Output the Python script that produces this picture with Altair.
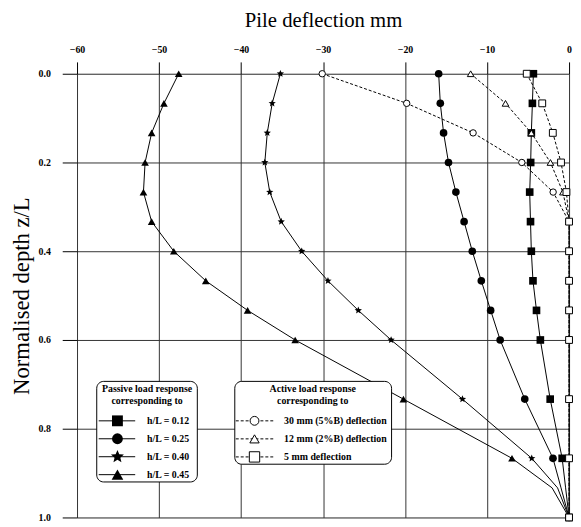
import altair as alt
import pandas as pd

# ---------------- data ----------------
Z_PASSIVE = [0.0, 0.0667, 0.1333, 0.2, 0.2667, 0.3333, 0.4, 0.4667, 0.5333, 0.6, 0.7333, 0.8667, 0.9333, 1.0]
MARKED_PASSIVE = [True, True, True, True, True, True, True, True, True, True, True, True, False, True]
P_H012 = [-4.35, -4.47, -4.6, -4.68, -4.8, -4.7, -4.6, -4.4, -3.97, -3.5, -2.3, -0.84, -0.42, 0.0]
P_H025 = [-15.9, -15.7, -15.3, -14.7, -13.8, -12.8, -11.8, -10.7, -9.56, -8.4, -5.4, -1.96, -0.98, 0.0]
P_H040 = [-35.2, -36.2, -36.8, -37.1, -36.5, -35.1, -32.6, -29.4, -25.7, -21.7, -13.0, -4.55, -1.4, 0.0]
P_H045 = [-47.6, -49.4, -50.9, -51.7, -51.9, -50.9, -48.2, -44.3, -39.2, -33.4, -20.2, -6.96, -2.07, 0.0]

Z_ACTIVE = [0.0, 0.0667, 0.1333, 0.2, 0.2667, 0.3333, 0.4, 0.4667, 0.5333, 0.6, 0.7333, 0.8667, 1.0]
A_30 = [-30.1, -19.8, -11.7, -5.76, -1.94, 0.0, 0.0, 0.0, 0.0, 0.0, 0.0, 0.0, 0.0]
A_12 = [-12.0, -7.75, -4.6, -2.27, -0.75, 0.0, 0.0, 0.0, 0.0, 0.0, 0.0, 0.0, 0.0]
A_5 = [-5.16, -3.27, -1.98, -0.98, -0.32, 0.0, 0.0, 0.0, 0.0, 0.0, 0.0, 0.0, 0.0]

PASSIVE_NAMES = ["h/L = 0.12", "h/L = 0.25", "h/L = 0.40", "h/L = 0.45"]
ACTIVE_NAMES = ["30 mm (5%B) deflection", "12 mm (2%B) deflection", "5 mm deflection"]
PASSIVE_TITLE = ["Passive load response", "corresponding to"]
ACTIVE_TITLE = ["Active load response", "corresponding to"]
X_TICKS = [-60, -50, -40, -30, -20, -10, 0]
Y_TICKS = [0.0, 0.2, 0.4, 0.6, 0.8, 1.0]
X_TITLE = "Pile deflection mm"
Y_TITLE = "Normalised depth z/L"

# ---------------- styling ----------------
FONT = "Liberation Serif"
STAR = ("M0,-1L0.265,-0.364L0.951,-0.309L0.428,0.139L0.588,0.809L0,0.45"
        "L-0.588,0.809L-0.428,0.139L-0.951,-0.309L-0.265,-0.364Z")
P_SHAPES = ["square", "circle", STAR, "triangle-up"]
P_SIZES = [60, 60, 140, 62]
A_SHAPES = ["circle", "triangle-up", "square"]
A_SIZES = [42, 48, 52]
LEG_P_SIZES = [121, 121, 190, 140]
LEG_A_SIZES = [80, 90, 110]

rows = []
for name, vals in zip(PASSIVE_NAMES, [P_H012, P_H025, P_H040, P_H045]):
    for i, (z, v, m) in enumerate(zip(Z_PASSIVE, vals, MARKED_PASSIVE)):
        rows.append(dict(series=name, kind="passive", z=z, defl=v, idx=i, marked=m))
for name, vals in zip(ACTIVE_NAMES, [A_30, A_12, A_5]):
    for i, (z, v) in enumerate(zip(Z_ACTIVE, vals)):
        rows.append(dict(series=name, kind="active", z=z, defl=v, idx=i, marked=True))
df = pd.DataFrame(rows)

x_enc = alt.X(
    "defl:Q",
    scale=alt.Scale(domain=[-60, 0], nice=False, zero=False),
    axis=alt.Axis(
        orient="top", values=X_TICKS, format="d", title=X_TITLE,
        tickSize=12, labelPadding=8, titlePadding=14, labelFlush=False, labelOverlap=False,
        labelFont=FONT, labelFontWeight="bold", labelFontSize=10, labelColor="black",
        titleFont=FONT, titleFontSize=21, titleFontWeight="normal", titleColor="black",
        tickColor="black", domain=False, grid=True, gridColor="#333", gridWidth=1, gridOpacity=1,
    ),
)
y_enc = alt.Y(
    "z:Q",
    scale=alt.Scale(domain=[0, 1], reverse=True, nice=False, zero=False),
    axis=alt.Axis(
        values=Y_TICKS, format=".1f", title=Y_TITLE,
        tickSize=15, labelPadding=12, titlePadding=5, labelFlush=False, labelOverlap=False,
        labelFont=FONT, labelFontWeight="bold", labelFontSize=10, labelColor="black",
        titleFont=FONT, titleFontSize=23, titleFontWeight="normal", titleColor="black",
        tickColor="black", domain=False, grid=True, gridColor="#333", gridWidth=1, gridOpacity=1,
    ),
)

passive_df = df[df.kind == "passive"]
active_df = df[df.kind == "active"]

p_lines = alt.Chart(passive_df).mark_line(
    color="black", strokeWidth=1, interpolate="linear"
).encode(x=x_enc, y=y_enc, detail="series:N", order="idx:Q")

a_lines = alt.Chart(active_df).mark_line(
    color="black", strokeWidth=1, strokeDash=[3, 2], interpolate="linear"
).encode(x=x_enc, y=y_enc, detail="series:N", order="idx:Q")

p_points = alt.Chart(passive_df[passive_df.marked]).mark_point(
    filled=True, color="black", opacity=1
).encode(
    x=x_enc, y=y_enc,
    shape=alt.Shape("series:N", scale=alt.Scale(domain=PASSIVE_NAMES, range=P_SHAPES), legend=None),
    size=alt.Size("series:N", scale=alt.Scale(domain=PASSIVE_NAMES, range=P_SIZES), legend=None),
)

a_points = alt.Chart(active_df).mark_point(
    filled=True, fill="white", stroke="black", strokeWidth=1, opacity=1
).encode(
    x=x_enc, y=y_enc,
    shape=alt.Shape("series:N", scale=alt.Scale(domain=ACTIVE_NAMES, range=A_SHAPES), legend=None),
    size=alt.Size("series:N", scale=alt.Scale(domain=ACTIVE_NAMES, range=A_SIZES), legend=None),
)

# ---------------- hand-built legend boxes ----------------
one = pd.DataFrame({"k": [0]})
legend_layers = []


def box(x1, x2, y1, y2):
    return alt.Chart(one).mark_rect(
        fill="white", stroke="black", strokeWidth=1, cornerRadius=7
    ).encode(x=alt.value(x1), x2=alt.value(x2), y=alt.value(y1), y2=alt.value(y2))


def text(t, x, y, align):
    return alt.Chart(one).mark_text(
        font=FONT, fontSize=10, fontWeight="bold", color="black", align=align, baseline="middle"
    ).encode(x=alt.value(x), y=alt.value(y), text=alt.value(t))


legend_layers.append(box(20, 122, 312, 414))
legend_layers.append(box(160, 319, 312, 396))
for i, t in enumerate(PASSIVE_TITLE):
    legend_layers.append(text(t, 71, 320 + i * 11.5, "center"))
for i, t in enumerate(ACTIVE_TITLE):
    legend_layers.append(text(t, 239, 320 + i * 11.5, "center"))

for i, name in enumerate(PASSIVE_NAMES):
    yy = 352 + i * 18.2
    legend_layers.append(
        alt.Chart(one).mark_rule(color="black", strokeWidth=1).encode(
            x=alt.value(22), x2=alt.value(59), y=alt.value(yy))
    )
    legend_layers.append(
        alt.Chart(one).mark_point(filled=True, color="black", opacity=1).encode(
            x=alt.value(41), y=alt.value(yy), shape=alt.value(P_SHAPES[i]), size=alt.value(LEG_P_SIZES[i]))
    )
    legend_layers.append(text(name, 71, yy, "left"))

for i, name in enumerate(ACTIVE_NAMES):
    yy = 352 + i * 18.3
    legend_layers.append(
        alt.Chart(one).mark_rule(color="black", strokeWidth=1, strokeDash=[3, 2]).encode(
            x=alt.value(161), x2=alt.value(199), y=alt.value(yy))
    )
    legend_layers.append(
        alt.Chart(one).mark_point(filled=True, fill="white", stroke="black", strokeWidth=1, opacity=1).encode(
            x=alt.value(180), y=alt.value(yy), shape=alt.value(A_SHAPES[i]), size=alt.value(LEG_A_SIZES[i]))
    )
    legend_layers.append(text(name, 210, yy, "left"))

chart = alt.layer(
    p_lines, *legend_layers, a_lines, p_points, a_points
).resolve_scale(
    shape="independent", size="independent"
).properties(
    width=499, height=450,
    autosize=alt.AutoSizeParams(type="none"),
    padding={"left": 70, "top": 63, "right": 4, "bottom": 6},
).configure_view(
    stroke="black", strokeWidth=1
).configure(
    background="white"
)

chart.save("out.html", embed_options={"renderer": "svg", "actions": False})
